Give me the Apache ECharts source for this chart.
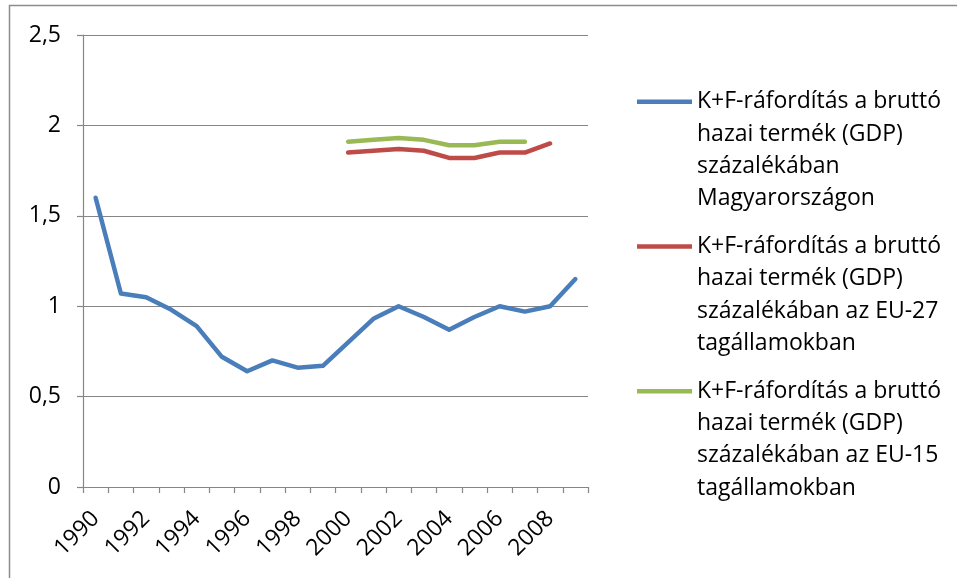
<!DOCTYPE html>
<html>
<head>
<meta charset="utf-8">
<script src="https://cdn.jsdelivr.net/npm/echarts@6/dist/echarts.min.js"></script>
<style>
  html, body { margin: 0; padding: 0; background: #fff; }
  #chart { width: 957px; height: 578px; }
</style>
</head>
<body>
<div id="chart"></div>
<script>
// évek (kategóriák)
const years = ['1990', '1991', '1992', '1993', '1994', '1995', '1996', '1997', '1998', '1999',
  '2000', '2001', '2002', '2003', '2004', '2005', '2006', '2007', '2008', '2009']

// K+F-ráfordítás a GDP százalékában
const hungary = [1.60, 1.07, 1.05, 0.98, 0.89, 0.72, 0.64, 0.70, 0.66, 0.67,
  0.80, 0.93, 1.00, 0.94, 0.87, 0.94, 1.00, 0.97, 1.00, 1.15]
const eu27 = [null, null, null, null, null, null, null, null, null, null,
  1.85, 1.86, 1.87, 1.86, 1.82, 1.82, 1.85, 1.85, 1.90, null]
const eu15 = [null, null, null, null, null, null, null, null, null, null,
  1.91, 1.92, 1.93, 1.92, 1.89, 1.89, 1.91, 1.91, null, null]

const seriesNames = [
  'K+F-ráfordítás a bruttó\nhazai termék (GDP)\nszázalékában\nMagyarországon',
  'K+F-ráfordítás a bruttó\nhazai termék (GDP)\nszázalékában az EU-27\ntagállamokban',
  'K+F-ráfordítás a bruttó\nhazai termék (GDP)\nszázalékában az EU-15\ntagállamokban'
]
const colors = ['#4A7EBB', '#BE4B48', '#98B954']

const font = '"Open Sans", "Noto Sans", sans-serif'
const lineH = 32.3

const chart = echarts.init(document.getElementById('chart'))

const makeSeries = (name, data, color) => ({
  name: name,
  type: 'line',
  data: data,
  symbol: 'none',
  connectNulls: false,
  lineStyle: { color: color, width: 4.5, cap: 'round', join: 'round' },
  itemStyle: { color: color }
})

const option = {
  animation: false,
  textStyle: { fontFamily: font },
  graphic: [{
    type: 'polyline',
    shape: { points: [[9.5, 578], [9.5, 5.5], [957, 5.5]] },
    style: { stroke: '#8c8c8c', lineWidth: 1.5, fill: null }
  }],
  grid: { left: 83, top: 35, right: 369, bottom: 91 },
  legend: {
    orient: 'vertical',
    left: 637,
    top: -11.3,
    padding: 0,
    icon: 'rect',
    itemWidth: 55,
    itemHeight: 4.5,
    itemGap: -81.4,
    data: seriesNames,
    // üres sorok elöl, hogy a jel az első sorhoz igazodjon
    formatter: name => '\n\n\n' + name,
    textStyle: {
      fontFamily: font,
      fontSize: 23,
      color: '#000',
      lineHeight: lineH
    }
  },
  xAxis: {
    type: 'category',
    data: years,
    boundaryGap: true,
    axisLine: { lineStyle: { color: '#868686', width: 1.2 } },
    axisTick: { show: true, interval: 0, length: 6, lineStyle: { color: '#868686', width: 1.2 } },
    axisLabel: {
      interval: 1,
      rotate: 45,
      margin: 28,
      fontFamily: font,
      fontSize: 23,
      color: '#000'
    },
    splitLine: { show: false }
  },
  yAxis: {
    type: 'value',
    min: 0,
    max: 2.5,
    interval: 0.5,
    axisLine: { show: true, lineStyle: { color: '#868686', width: 1.2 } },
    axisTick: { show: true, length: 6, lineStyle: { color: '#868686', width: 1.2 } },
    axisLabel: {
      margin: 22,
      fontFamily: font,
      fontSize: 23,
      color: '#000',
      formatter: v => String(v).replace('.', ',')
    },
    splitLine: { lineStyle: { color: '#868686', width: 1.2 } }
  },
  series: [
    makeSeries(seriesNames[0], hungary, colors[0]),
    makeSeries(seriesNames[1], eu27, colors[1]),
    makeSeries(seriesNames[2], eu15, colors[2])
  ]
}

chart.setOption(option)
</script>
</body>
</html>
